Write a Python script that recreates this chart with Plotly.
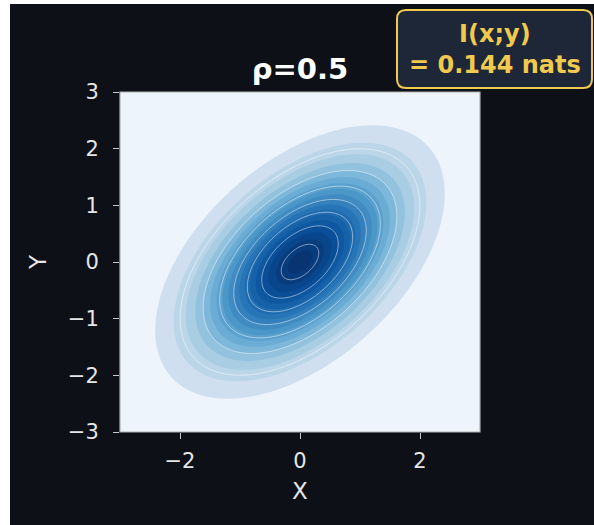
import numpy as np
import plotly.graph_objects as go

# Bivariate standard normal with correlation rho
rho = 0.5
x_range = [-3, 3]
y_range = [-3, 3]
x_ticks = [-2, 0, 2]
y_ticks = [-3, -2, -1, 0, 1, 2, 3]
fill_step = 0.01          # density step between filled bands
fill_top = 0.19
line_levels = dict(start=0.025, end=0.175, size=0.025)
color_gamma = 0.58        # power applied to the normalised band value

xs = np.linspace(x_range[0], x_range[1], 301)
ys = np.linspace(y_range[0], y_range[1], 301)
X, Y = np.meshgrid(xs, ys)
det = 1.0 - rho ** 2
Z = np.exp(-(X ** 2 - 2 * rho * X * Y + Y ** 2) / (2 * det)) / (2 * np.pi * np.sqrt(det))

mutual_info = -0.5 * np.log(1 - rho ** 2)

# "Blues" anchor colours
blues_anchor = ["#f7fbff", "#deebf7", "#c6dbef", "#9ecae1", "#6baed6",
                "#4292c6", "#2171b5", "#08519c", "#08306b"]


def hex_rgb(h):
    return [int(h[j:j + 2], 16) for j in (1, 3, 5)]


def blues(t):
    t = min(max(t, 0.0), 1.0) * (len(blues_anchor) - 1)
    i = min(int(t), len(blues_anchor) - 2)
    f = t - i
    a, b = hex_rgb(blues_anchor[i]), hex_rgb(blues_anchor[i + 1])
    return [a[k] + (b[k] - a[k]) * f for k in range(3)]


def band_color(t):
    # lighter bands are slightly muted towards a grey-blue
    tc = t ** color_gamma
    c = blues(tc)
    g = hex_rgb("#dde3ea")
    w = 0.45 * (1 - tc) ** 2
    return "#%02x%02x%02x" % tuple(round(c[k] * (1 - w) + g[k] * w) for k in range(3))


BG = "#0d1117"
PLOT_BG = "#edf4fb"
TXT = "#e6e6e6"
GOLD = "#f0c94f"

n_bands = int(round(fill_top / fill_step))

fig = go.Figure()
# Each band shades the region where the density lies above its lower level
for k in range(1, n_bands):
    level = k * fill_step
    t = (k + 0.5) / n_bands
    fig.add_trace(go.Contour(
        x=xs, y=ys, z=Z,
        contours=dict(type="constraint", operation="<", value=level),
        fillcolor=band_color(t),
        line=dict(width=0), showscale=False, hoverinfo="skip",
    ))
fig.add_trace(go.Contour(
    x=xs, y=ys, z=Z,
    autocontour=False, contours=dict(coloring="none", **line_levels),
    line=dict(color="rgba(255,255,255,0.55)", width=0.9),
    showscale=False, hoverinfo="skip",
))

L, R, T, B = 120, 114, 92, 93
W, H = 594, 525
pw, ph = W - L - R, H - T - B


def px(v):
    return (v - L) / pw


def py(v):
    return (H - B - v) / ph


shapes = [
    # dark figure background
    dict(type="rect", xref="paper", yref="paper", layer="below",
         x0=px(10), x1=px(W + 2), y0=py(4), y1=py(H + 2),
         fillcolor=BG, line=dict(width=0)),
    # plot frame
    dict(type="rect", xref="paper", yref="paper", x0=0, x1=1, y0=0, y1=1,
         line=dict(color="#b0b0b0", width=1.2)),
]

# rounded box for the mutual information label
bx0, bx1, by0, by1, r = 397, 592, 10, 88, 9
x0, x1 = px(bx0), px(bx1)
yt, yb = py(by0), py(by1)
rx, ry = r / pw, r / ph
path = (
    f"M {x0+rx},{yt} L {x1-rx},{yt} Q {x1},{yt} {x1},{yt-ry} "
    f"L {x1},{yb+ry} Q {x1},{yb} {x1-rx},{yb} "
    f"L {x0+rx},{yb} Q {x0},{yb} {x0},{yb+ry} "
    f"L {x0},{yt-ry} Q {x0},{yt} {x0+rx},{yt} Z"
)
shapes.append(dict(type="path", xref="paper", yref="paper", path=path,
                   fillcolor="#1d2737", line=dict(color=GOLD, width=2)))
# pale plot area underneath the density bands
shapes.append(dict(type="rect", xref="paper", yref="paper", layer="below",
                   x0=0, x1=1, y0=0, y1=1, fillcolor=PLOT_BG, line=dict(width=0)))

fig.update_layout(
    width=W, height=H,
    margin=dict(l=L, r=R, t=T, b=B),
    paper_bgcolor="white", plot_bgcolor=PLOT_BG,
    font=dict(family="DejaVu Sans", color=TXT, size=21),
    showlegend=False,
    shapes=shapes,
    title=dict(text=f"<b>ρ={rho}</b>", x=0.5, xref="paper", xanchor="center",
               y=1 - 69 / H, yanchor="middle",
               font=dict(family="DejaVu Sans", size=29, color="white")),
    annotations=[dict(
        text=f"<b>I(x;y)<br>= {mutual_info:.3f} nats</b>",
        xref="paper", yref="paper", x=px((bx0 + bx1) / 2), y=py((by0 + by1) / 2),
        xanchor="center", yanchor="middle", showarrow=False, align="center",
        font=dict(family="DejaVu Sans", size=24, color=GOLD),
    )],
)
fig.update_xaxes(
    range=x_range, tickvals=x_ticks, ticktext=[str(v).replace("-", "−") for v in x_ticks],
    ticks="outside", ticklen=6, tickwidth=1.3, tickcolor="#c8c8c8",
    ticklabelstandoff=4,
    showgrid=False, zeroline=False, showline=False,
    title=dict(text="X", font=dict(size=23, color=TXT), standoff=10),
)
fig.update_yaxes(
    range=y_range, tickvals=y_ticks, ticktext=[str(v).replace("-", "−") for v in y_ticks],
    ticks="outside", ticklen=6, tickwidth=1.3, tickcolor="#c8c8c8",
    ticklabelstandoff=10,
    showgrid=False, zeroline=False, showline=False,
    title=dict(text="Y", font=dict(size=23, color=TXT), standoff=14),
)

fig.write_html("out.html")
